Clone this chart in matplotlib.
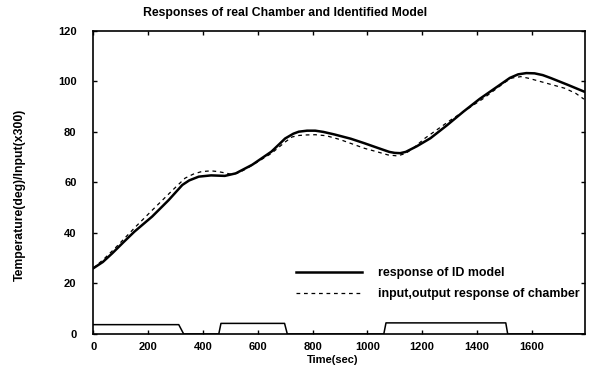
import matplotlib
matplotlib.use("Agg")
import matplotlib.pyplot as plt

# values
time_model = [0, 35, 70, 110, 150, 215, 275, 300, 325, 350, 385, 430, 480, 520,
              580, 650, 680, 700, 730, 750, 780, 810, 840, 880, 940, 990, 1040,
              1080, 1100, 1120, 1140, 1180, 1230, 1290, 1350, 1410, 1475, 1520,
              1550, 1580, 1610, 1640, 1670, 1730, 1790]
model = [26, 28.5, 32, 36.3, 40.5, 46.5, 53, 56, 59, 60.8, 62.3, 62.8, 62.6, 63.6,
         67, 72.2, 75.3, 77.4, 79.3, 80.1, 80.5, 80.5, 80, 79, 77.3, 75.5, 73.6,
         72.1, 71.7, 71.6, 72.1, 74.3, 77.5, 82.6, 88, 93.1, 98, 101.4,
         102.8, 103.3, 103.2, 102.5, 101.3, 98.7, 96]

time_chamber = [0, 40, 80, 155, 215, 290, 335, 365, 395, 430, 455, 480, 505, 530,
                560, 650, 700, 725, 750, 775, 810, 850, 900, 990, 1040, 1075, 1110,
                1140, 1170, 1210, 1305, 1420, 1500, 1525, 1560, 1590, 1620, 1720,
                1760, 1790]
chamber = [26, 29.8, 34, 42.5, 49, 57, 61.7, 63.3, 64.3, 64.6, 64.3, 63.8, 63.2,
           63.8, 65.5, 71.5, 76, 78, 78.6, 78.8, 78.9, 78.5, 77, 73.5, 72, 70.9,
           70.5, 71.5, 73.8, 77.5, 84.8, 93, 99.5, 101.3, 101.9, 101.2, 100.3,
           97.3, 95.3, 93]

input_time = [0, 312, 330, 458, 466, 698, 708, 1060, 1068, 1505, 1512, 1790]
input_value = [3.7, 3.7, 0, 0, 4.2, 4.2, 0, 0, 4.4, 4.4, 0, 0]

x_ticks = [0, 200, 400, 600, 800, 1000, 1200, 1400, 1600]
y_ticks = [0, 20, 40, 60, 80, 100, 120]

plt.rcParams['font.family'] = ['Liberation Sans', 'DejaVu Sans']
plt.rcParams['font.weight'] = 'bold'

fig = plt.figure(figsize=(5.9, 3.68), dpi=100)
ax = fig.add_axes([0.158, 0.0924, 0.834, 0.8236])

ax.plot(time_model, model, color='black', lw=1.8, label='response of ID model')
ax.plot(time_chamber, chamber, color='black', lw=0.9, ls=(0, (3, 3)),
        label='input,output response of chamber')
ax.plot(input_time, input_value, color='black', lw=1.1)

ax.set_xlim(0, 1795)
ax.set_ylim(0, 120)
ax.set_xticks(x_ticks)
ax.set_yticks(y_ticks)
ax.tick_params(direction='in', length=3, top=True, right=True, labelsize=8,
               width=1)
ax.tick_params(axis='x', pad=6)
ax.tick_params(axis='y', pad=12)
for s in ax.spines.values():
    s.set_linewidth(1.2)

ax.set_xlabel('Time(sec)', fontsize=8, fontweight='bold')
ax.xaxis.set_label_coords(0.486, -0.068)
ax.set_ylabel('Temperature(deg)/Input(x300)', fontsize=8.8, fontweight='bold')
ax.yaxis.set_label_coords(-0.136, 0.46)
fig.text(143 / 590, 1 - 13 / 368, 'Responses of real Chamber and Identified Model',
         fontsize=8.8, fontweight='bold', va='center', ha='left')

fig.legend(loc='upper left', bbox_to_anchor=(296 / 590, 1 - 267 / 368),
           frameon=False, fontsize=8.9, handlelength=5.3, handletextpad=1.3,
           labelspacing=0.75, borderpad=0, borderaxespad=0)

fig.savefig('out.png', dpi=100)
